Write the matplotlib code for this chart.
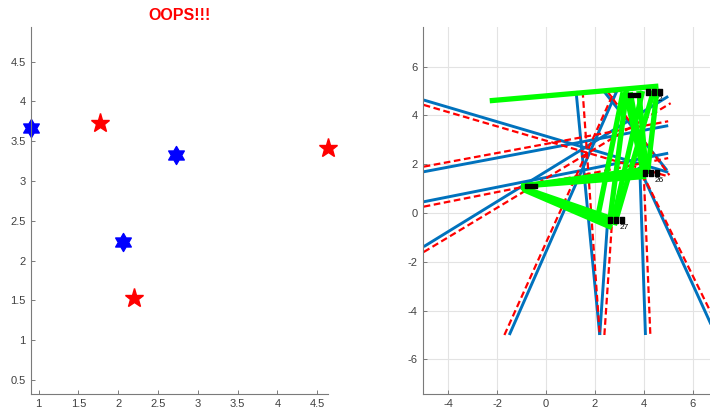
import numpy as np
import matplotlib
import matplotlib.pyplot as plt
import matplotlib.ticker as ticker
from matplotlib.path import Path

plt.rcParams['font.family'] = ['Liberation Sans', 'DejaVu Sans']
plt.rcParams['axes.unicode_minus'] = False

# left panel points
blue_x = [0.91, 2.06, 2.72]
blue_y = [3.66, 2.23, 3.32]
red_x = [1.77, 2.20, 4.63]
red_y = [3.73, 1.53, 3.42]

# right panel segments: (x0, y0, x1, y1)
blue_segs = [
    (-5.0, 4.63, 5.0, 1.67),
    (-5.0, 1.69, 5.0, 3.58),
    (-5.0, 0.46, 5.0, 2.45),
    (-5.0, -1.38, 5.0, 4.78),
    (-1.5, -5.0, 2.9, 5.0),
    (1.23, 5.0, 2.2, -5.0),
    (2.2, -5.0, 2.52, -0.35),
    (2.36, 5.0, 4.95, 1.75),
    (3.84, 1.8, 4.07, -5.0),
    (3.8, 1.9, 6.95, -5.0),
]
red_segs = [
    (-5.0, 4.43, 5.0, 1.5),
    (-5.0, 1.9, 5.0, 3.76),
    (-5.0, 0.26, 5.0, 2.25),
    (-5.0, -1.6, 5.1, 4.5),
    (-1.7, -5.0, 2.8, 5.0),
    (1.5, 5.0, 2.2, -5.0),
    (2.39, -5.0, 2.7, -0.4),
    (2.5, 5.0, 5.05, 1.55),
    (4.0, 1.6, 4.27, -5.0),
    (3.95, 1.6, 7.2, -5.0),
]
green_segs = [
    (-2.3, 4.6, 4.6, 5.2),
    (-1.0, 1.1, 4.1, 1.5),
    (-1.0, 1.1, 4.1, 1.65),
    (-1.0, 1.1, 4.1, 1.8),
    (-1.0, 1.05, 2.75, -0.25),
    (-0.95, 1.0, 2.7, -0.45),
    (-0.9, 0.95, 2.7, -0.6),
    (2.15, 0.0, 3.15, 4.95),
    (2.6, -0.4, 3.3, 5.0),
    (2.75, -0.3, 3.95, 5.0),
    (2.8, -0.5, 4.4, 5.0),
    (4.0, 1.6, 3.25, 5.0),
    (4.05, 1.6, 3.45, 4.95),
    (4.1, 1.7, 3.8, 5.0),
    (4.15, 1.6, 4.55, 5.1),
]
cam_x = [4.42, 2.85, 4.3, -0.6, 3.6]
cam_y = [4.95, -0.3, 1.62, 1.1, 4.85]
cam_size = [12, 12, 12, 8, 8]
cam_lbl = ['2', '27', '26', '', '']

hexagram = Path.unit_regular_star(6, 0.577)

# three little boxes side by side for the camera glyphs
verts, codes = [], []
for k in (-1, 0, 1):
    cx = k * 0.75
    sq = [(cx - 0.28, -0.35), (cx + 0.28, -0.35), (cx + 0.28, 0.35), (cx - 0.28, 0.35), (cx - 0.28, -0.35)]
    verts += sq
    codes += [Path.MOVETO, Path.LINETO, Path.LINETO, Path.LINETO, Path.CLOSEPOLY]
cam_marker = Path(verts, codes)

spine_col = '#7a7a7a'
label_col = '#404040'

fig = plt.figure(figsize=(7.1, 4.12), dpi=100)

def style(ax):
    for s in ['top', 'right']:
        ax.spines[s].set_visible(False)
    for s in ['left', 'bottom']:
        ax.spines[s].set_color(spine_col)
        ax.spines[s].set_linewidth(0.8)
    ax.tick_params(direction='in', length=3, width=0.7, color=spine_col,
                   labelcolor=label_col, labelsize=8)
    ax.xaxis.set_major_formatter(ticker.FormatStrFormatter('%g'))
    ax.yaxis.set_major_formatter(ticker.FormatStrFormatter('%g'))

# left: the stars
ax1 = fig.add_axes([0.0432, 0.043, 0.4192, 0.8907])
ax1.plot(blue_x, blue_y, linestyle='none', marker=hexagram, ms=13, color='blue', clip_on=False)
ax1.plot(red_x, red_y, linestyle='none', marker='*', ms=14, color='red', clip_on=False)
ax1.set_xlim(0.9, 4.64)
ax1.set_ylim(0.32, 4.93)
ax1.set_xticks(np.arange(1, 4.51, 0.5))
ax1.set_yticks(np.arange(0.5, 4.51, 0.5))
style(ax1)
ax1.set_title('OOPS!!!', color='red', fontweight='bold', fontsize=11.5, pad=5)

# right: rays
ax2 = fig.add_axes([0.5954, 0.043, 0.4046, 0.8907])
for x0, y0, x1, y1 in blue_segs:
    ax2.plot([x0, x1], [y0, y1], color='#0072BD', lw=2.1, solid_capstyle='butt')
for x0, y0, x1, y1 in red_segs:
    ax2.plot([x0, x1], [y0, y1], color='red', lw=1.6, linestyle=(0, (3.0, 1.6)))
for x0, y0, x1, y1 in green_segs:
    ax2.plot([x0, x1], [y0, y1], color='#00ff00', lw=3.8, solid_capstyle='butt')
for x, y, s, t in zip(cam_x, cam_y, cam_size, cam_lbl):
    ax2.plot(x, y, linestyle='none', marker=cam_marker, ms=s, color='black')
    if t:
        ax2.text(x + 0.15, y - 0.3, t, fontsize=6, color='black', ha='left', va='center')
ax2.set_xlim(-5.04, 6.71)
ax2.set_ylim(-7.43, 7.61)
ax2.set_xticks(np.arange(-4, 6.1, 2))
ax2.set_yticks(np.arange(-6, 6.1, 2))
ax2.grid(True, color='#e3e3e3', lw=0.8)
ax2.set_axisbelow(True)
style(ax2)

plt.savefig('out.png', dpi=100)
